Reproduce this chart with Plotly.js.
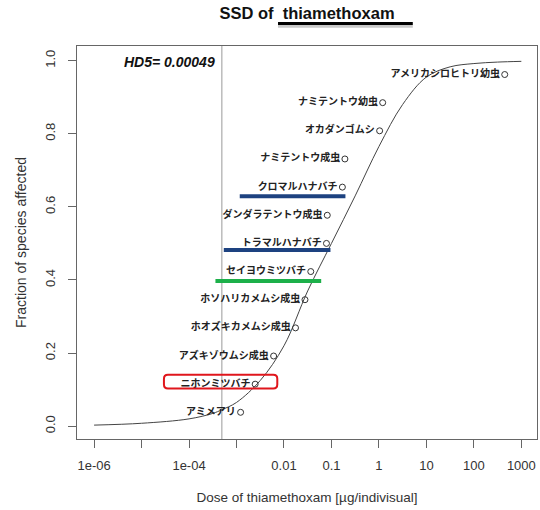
<!DOCTYPE html>
<html>
<head>
<meta charset="utf-8">
<script src="https://cdn.plot.ly/plotly-3.0.1.min.js"></script>
<style>html,body{margin:0;padding:0;background:#fff;}#chart{width:540px;height:510px;}</style>
</head>
<body>
<div id="chart"></div>
<script>
// Species (ordered by sensitivity)
var species = ["アミメアリ","ニホンミツバチ","アズキゾウムシ成虫","ホオズキカメムシ成虫","ホソハリカメムシ成虫","セイヨウミツバチ","トラマルハナバチ","ダンダラテントウ成虫","クロマルハナバチ","ナミテントウ成虫","オカダンゴムシ","ナミテントウ幼虫","アメリカシロヒトリ幼虫"];
var dose = [0.00122, 0.00247, 0.00605, 0.0175, 0.0277, 0.0367, 0.0785, 0.0817, 0.170, 0.192, 1.035, 1.20, 447];
var fraction = [0.038, 0.115, 0.192, 0.269, 0.346, 0.423, 0.500, 0.577, 0.654, 0.731, 0.808, 0.885, 0.962];

// Fitted SSD curve
var curveDose = [1e-6, 1e-5, 1e-4, 3.16e-4, 4.9e-4, 1e-3, 3.16e-3, 1e-2, 3.16e-2, 0.1, 0.316, 1, 3.16, 10, 31.6, 100, 316, 1000];
var curveFrac = [0.003, 0.008, 0.020, 0.035, 0.045, 0.065, 0.125, 0.220, 0.370, 0.500, 0.630, 0.765, 0.880, 0.955, 0.983, 0.992, 0.996, 0.998];

var hd5 = 0.00049;

var tickVals = [1e-6, 1e-5, 1e-4, 1e-3, 1e-2, 1e-1, 1, 10, 100, 1000];
var tickText = ["1e-06", "", "1e-04", "", "0.01", "0.1", "1", "10", "100", "1000"];
var yTickVals = [0, 0.2, 0.4, 0.6, 0.8, 1.0];
var yTickText = ["0.0", "0.2", "0.4", "0.6", "0.8", "1.0"];

// Highlight bars: [x0, x1, y, colour]
var highlights = [
  [0.00117, 0.197, 0.629, "#1d4280"],
  [0.00054, 0.0953, 0.482, "#1d4280"],
  [0.00036, 0.0608, 0.397, "#1db04a"]
];
var redBox = [2.96e-5, 0.00723, 0.103, 0.141];

var xRange = [-6.36, 3.33];
var yRange = [-0.035, 1.04];
var W = 540, H = 510, M = {l: 77, r: 3, t: 46, b: 71};
var plotW = W - M.l - M.r, plotH = H - M.t - M.b;

var traces = [];
traces.push({
  x: curveDose, y: curveFrac, type: "scatter", mode: "lines",
  line: {color: "#444", width: 1, shape: "spline", smoothing: 1},
  hoverinfo: "skip", showlegend: false
});
highlights.forEach(function(h){
  traces.push({x: [h[0], h[1]], y: [h[2], h[2]], type: "scatter", mode: "lines",
    line: {color: h[3], width: 4}, showlegend: false, hoverinfo: "skip"});
});
traces.push({
  x: dose, y: fraction, text: species, type: "scatter", mode: "markers+text",
  textposition: "middle left",
  textfont: {family: "Noto Sans CJK JP", size: 10, color: "#222", weight: "bold"},
  marker: {symbol: "circle-open", size: 6, color: "#333", line: {width: 1}},
  showlegend: false
});

// rounded red box in paper coordinates
function px(v){ return (Math.log10(v) - xRange[0]) / (xRange[1] - xRange[0]); }
function py(v){ return (v - yRange[0]) / (yRange[1] - yRange[0]); }
var bx0 = px(redBox[0]), bx1 = px(redBox[1]), by0 = py(redBox[2]), by1 = py(redBox[3]);
var rx = 4 / plotW, ry = 4 / plotH;
var roundPath = "M " + (bx0 + rx) + " " + by0 +
  " L " + (bx1 - rx) + " " + by0 + " Q " + bx1 + " " + by0 + " " + bx1 + " " + (by0 + ry) +
  " L " + bx1 + " " + (by1 - ry) + " Q " + bx1 + " " + by1 + " " + (bx1 - rx) + " " + by1 +
  " L " + (bx0 + rx) + " " + by1 + " Q " + bx0 + " " + by1 + " " + bx0 + " " + (by1 - ry) +
  " L " + bx0 + " " + (by0 + ry) + " Q " + bx0 + " " + by0 + " " + (bx0 + rx) + " " + by0 + " Z";

var shapes = [
  {type: "line", xref: "x", yref: "paper", x0: hd5, x1: hd5, y0: 0, y1: 1,
   line: {color: "#bbbbbb", width: 1.5}, layer: "below"},
  {type: "path", xref: "paper", yref: "paper", path: roundPath,
   line: {color: "#e0161c", width: 2}},
  {type: "line", xref: "paper", yref: "paper", x0: 0.437, x1: 0.730, y0: 1.050, y1: 1.050,
   line: {color: "#c8c8c8", width: 3}},
  {type: "line", xref: "paper", yref: "paper", x0: 0.437, x1: 0.730, y0: 1.057, y1: 1.057,
   line: {color: "#000", width: 3}}
];

var layout = {
  width: W, height: H,
  margin: M,
  paper_bgcolor: "#fff", plot_bgcolor: "#fff",
  font: {family: "Liberation Sans, Arial, sans-serif", color: "#333", size: 12},
  title: {text: "<b>SSD of&nbsp; thiamethoxam</b>", x: 0.5, xref: "paper", xanchor: "center",
          y: 0.974, yanchor: "middle", font: {size: 16.5, color: "#111"}},
  xaxis: {type: "log", range: xRange, tickmode: "array", tickvals: tickVals, ticktext: tickText,
          ticks: "outside", ticklen: 8, tickcolor: "#666", showgrid: false, zeroline: false,
          showline: true, linecolor: "#666", mirror: true, ticklabelstandoff: 6,
          tickfont: {size: 13, color: "#333"},
          title: {text: "Dose of thiamethoxam [µg/indivisual]", font: {size: 13.5, color: "#333"}, standoff: 20}},
  yaxis: {range: yRange, tickmode: "array", tickvals: yTickVals, ticktext: yTickText, tickangle: -90,
          ticks: "outside", ticklen: 8, tickcolor: "#666", showgrid: false, zeroline: false,
          showline: true, linecolor: "#666", mirror: true, ticklabelstandoff: 8,
          tickfont: {size: 13, color: "#333"},
          title: {text: "Fraction of species affected", font: {size: 14, color: "#333"}, standoff: 12}},
  annotations: [
    {xref: "x", yref: "paper", x: Math.log10(hd5), y: 0.959, xanchor: "right", yanchor: "middle",
     xshift: -5, showarrow: false, text: "<b><i>HD5= " + hd5 + "</i></b>",
     font: {size: 14, color: "#111"}}
  ],
  shapes: shapes
};

Plotly.newPlot("chart", traces, layout, {displayModeBar: false, staticPlot: true});
</script>
</body>
</html>
